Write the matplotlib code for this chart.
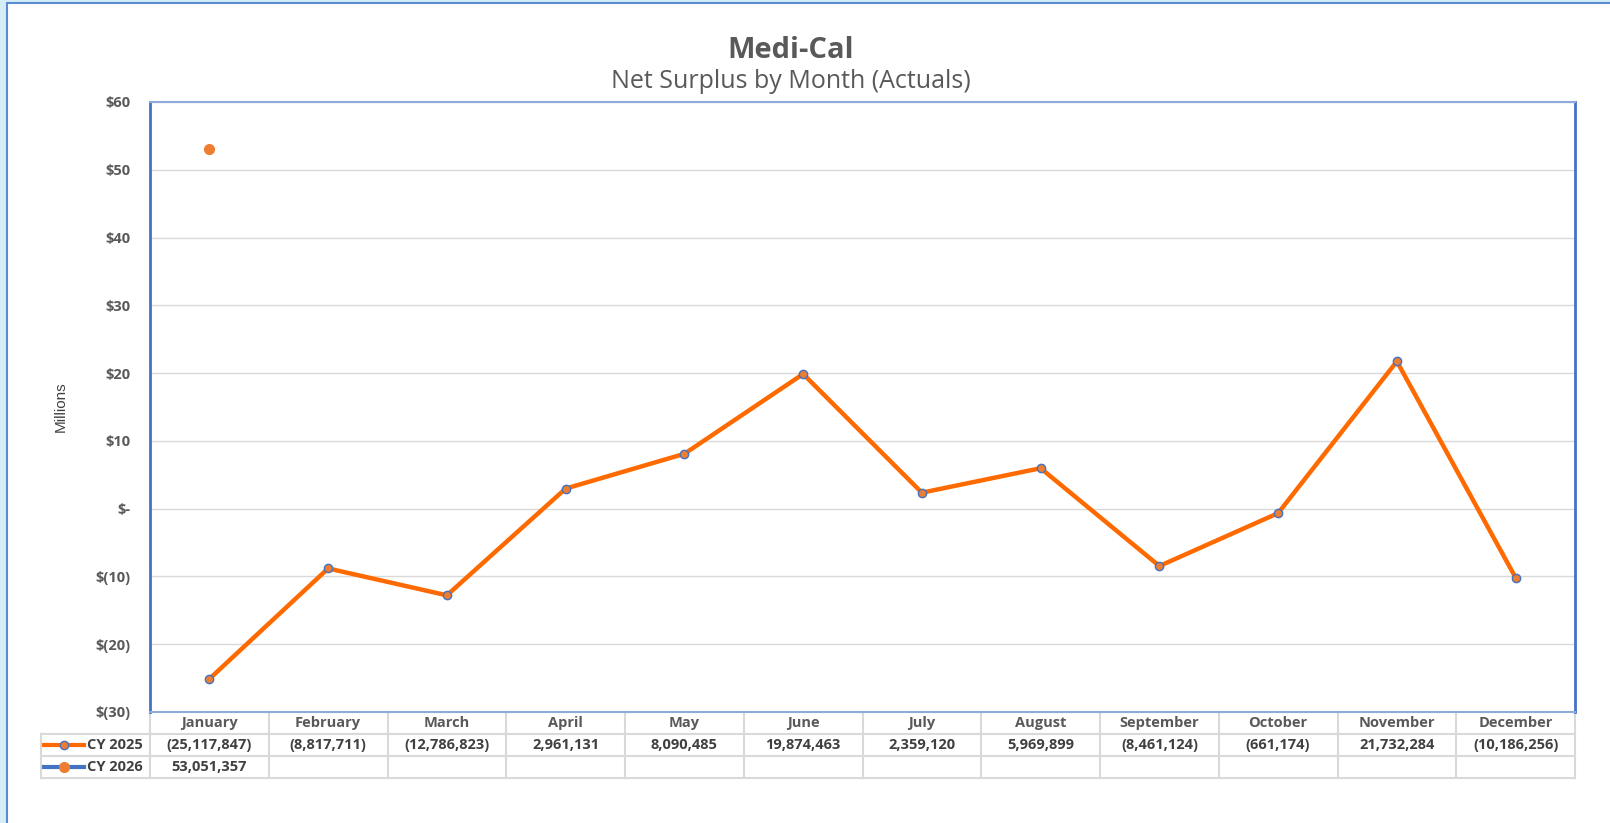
import numpy as np
import matplotlib.pyplot as plt
from matplotlib.patches import Rectangle
from matplotlib.lines import Line2D
import matplotlib.transforms as mtransforms

# Datos
months = ['January', 'February', 'March', 'April', 'May', 'June', 'July',
          'August', 'September', 'October', 'November', 'December']
cy2025 = [-25117847, -8817711, -12786823, 2961131, 8090485, 19874463,
          2359120, 5969899, -8461124, -661174, 21732284, -10186256]
cy2026 = [53051357]
series_names = ['CY 2025', 'CY 2026']
yticks = [60, 50, 40, 30, 20, 10, 0, -10, -20, -30]


def fmt_tick(v):
    if v == 0:
        return '$-'
    if v < 0:
        return '$({:d})'.format(-v)
    return '${:d}'.format(v)


def fmt_cell(v):
    if v < 0:
        return '({:,})'.format(-v)
    return '{:,}'.format(v)


plt.rcParams['font.family'] = ['Open Sans', 'DejaVu Sans']
GRAY = '#595959'
DARK = '#404040'
ORANGE = '#FF6A00'
ORANGE2 = '#ED7D31'
BLUE = '#4472C4'
GRID = '#D9D9D9'

W, H = 1610, 823
fig = plt.figure(figsize=(W / 100, H / 100), dpi=100)
fig.patch.set_facecolor('#D5EDF8')

# marco blanco con borde azul
fig.patches.append(Rectangle((7 / W, -0.1), 1.2, 1 - 3 / H + 0.1,
                             transform=fig.transFigure, facecolor='white',
                             edgecolor='#5B8BD0', linewidth=1.5, zorder=-10))

ax_l, ax_r, ax_t, ax_b = 150, 1575, 102, 712
ax = fig.add_axes([ax_l / W, 1 - ax_b / H, (ax_r - ax_l) / W, (ax_b - ax_t) / H])
ax.set_facecolor('white')

x = np.arange(len(months))
ax.plot(x, np.array(cy2025) / 1e6, color=ORANGE, linewidth=3.2, marker='o',
        markersize=6, markerfacecolor=ORANGE2, markeredgecolor=BLUE,
        markeredgewidth=1, zorder=3)
ax.plot(x[:len(cy2026)], np.array(cy2026) / 1e6, color=BLUE, linewidth=3,
        marker='o', markersize=7, markerfacecolor=ORANGE2,
        markeredgecolor=ORANGE2, zorder=3)

ax.set_xlim(-0.5, len(months) - 0.5)
ax.set_ylim(-30, 60)
ax.set_yticks(yticks)
ax.set_yticklabels([fmt_tick(v) for v in yticks], fontsize=10.5,
                   fontweight='bold', color=GRAY)
ax.tick_params(axis='y', length=0, pad=14)
ax.set_xticks([])
ax.grid(axis='y', color=GRID, linewidth=1)
ax.set_axisbelow(True)

for side in ['left', 'right']:
    ax.spines[side].set_color(BLUE)
    ax.spines[side].set_linewidth(2)
for side in ['top', 'bottom']:
    ax.spines[side].set_color('#8FAADC')
    ax.spines[side].set_linewidth(1.5)

ax.set_ylabel('Millions', family=['Liberation Sans Narrow', 'Liberation Sans'],
              fontsize=11, color=DARK, labelpad=20)

fig.text(791 / W, 1 - 50 / H, 'Medi-Cal', ha='center', va='center',
         fontsize=21, fontweight='bold', color=GRAY)
fig.text(791 / W, 1 - 82 / H, 'Net Surplus by Month (Actuals)', ha='center',
         va='center', fontsize=18, color=GRAY)

# Tabla de datos
row_h = 22 / (ax_b - ax_t)
leg_x = (41 - ax_l) / (ax_r - ax_l)
tr = mtransforms.blended_transform_factory(ax.transData, ax.transAxes)
ta = ax.transAxes
n = len(months)
line_kw = dict(color=GRID, linewidth=1.5, clip_on=False, zorder=1)

for i in range(n + 1):
    ax.add_line(Line2D([i - 0.5, i - 0.5], [0, -3 * row_h], transform=tr, **line_kw))
for k in (1, 2, 3):
    ax.add_line(Line2D([leg_x, 1], [-k * row_h, -k * row_h], transform=ta, **line_kw))
ax.add_line(Line2D([leg_x, leg_x], [-row_h, -3 * row_h], transform=ta, **line_kw))

for i, m in enumerate(months):
    ax.text(i, -0.5 * row_h, m, transform=tr, ha='center', va='center',
            fontsize=10.5, fontweight='bold', color=GRAY)
    ax.text(i, -1.5 * row_h, fmt_cell(cy2025[i]), transform=tr, ha='center',
            va='center', fontsize=10.5, fontweight='bold', color=DARK)
for i, v in enumerate(cy2026):
    ax.text(i, -2.5 * row_h, fmt_cell(v), transform=tr, ha='center',
            va='center', fontsize=10.5, fontweight='bold', color=DARK)

# Leyenda en la tabla
px = lambda p: (p - ax_l) / (ax_r - ax_l)
styles = [dict(color=ORANGE, mfc=ORANGE2, mec=BLUE, ms=6),
          dict(color=BLUE, mfc=ORANGE2, mec=ORANGE2, ms=7)]
for k, (name, st) in enumerate(zip(series_names, styles)):
    yk = -(k + 1.5) * row_h
    ax.add_line(Line2D([px(44), px(84)], [yk, yk], transform=ta, color=st['color'],
                       linewidth=3, clip_on=False))
    ax.add_line(Line2D([px(64)], [yk], transform=ta, marker='o', markersize=st['ms'],
                       markerfacecolor=st['mfc'], markeredgecolor=st['mec'],
                       linestyle='none', clip_on=False))
    ax.text(px(87), yk, name, transform=ta, ha='left', va='center',
            fontsize=10.5, fontweight='bold', color=DARK)

plt.savefig('out.png', dpi=100, facecolor=fig.get_facecolor())
